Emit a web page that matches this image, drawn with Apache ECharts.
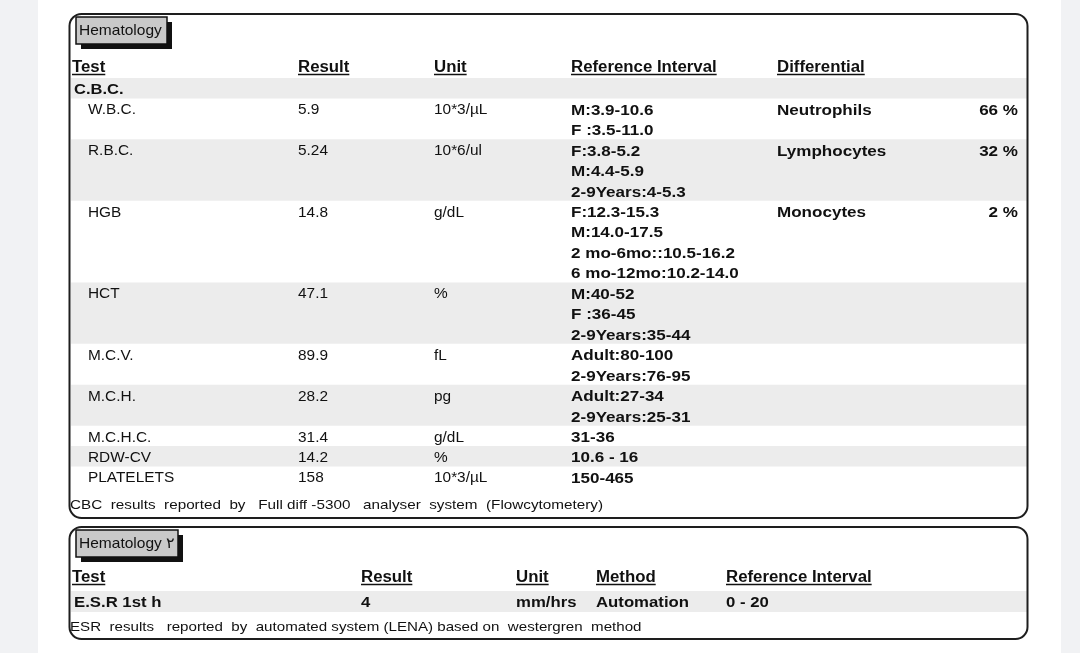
<!DOCTYPE html>
<html>
<head>
<meta charset="utf-8">
<script src="https://cdn.jsdelivr.net/npm/echarts@6/dist/echarts.min.js"></script>
<style>
html,body{margin:0;padding:0;background:#f1f2f4;}
#chart{width:1080px;height:653px;}
</style>
</head>
<body>
<div id="chart"></div>
<script>
// ---------- DATA ----------
const sectionTitle1 = 'Hematology';
const sectionTitle2 = 'Hematology ٢';
const headers1 = ['Test', 'Result', 'Unit', 'Reference Interval', 'Differential'];
const groupName = 'C.B.C.';
const tests = ['W.B.C.', 'R.B.C.', 'HGB', 'HCT', 'M.C.V.', 'M.C.H.', 'M.C.H.C.', 'RDW-CV', 'PLATELETS'];
const results = ['5.9', '5.24', '14.8', '47.1', '89.9', '28.2', '31.4', '14.2', '158'];
const units = ['10*3/µL', '10*6/ul', 'g/dL', '%', 'fL', 'pg', 'g/dL', '%', '10*3/µL'];
const refIntervals = [
  ['M:3.9-10.6', 'F :3.5-11.0'],
  ['F:3.8-5.2', 'M:4.4-5.9', '2-9Years:4-5.3'],
  ['F:12.3-15.3', 'M:14.0-17.5', '2 mo-6mo::10.5-16.2', '6 mo-12mo:10.2-14.0'],
  ['M:40-52', 'F :36-45', '2-9Years:35-44'],
  ['Adult:80-100', '2-9Years:76-95'],
  ['Adult:27-34', '2-9Years:25-31'],
  ['31-36'],
  ['10.6 - 16'],
  ['150-465']
];
const diffNames = ['Neutrophils', 'Lymphocytes', 'Monocytes'];
const diffValues = [66, 32, 2];
const footer1 = 'CBC  results  reported  by   Full diff -5300   analyser  system  (Flowcytometery)';

const headers2 = ['Test', 'Result', 'Unit', 'Method', 'Reference Interval'];
const esrRow = ['E.S.R 1st h', '4', 'mm/hrs', 'Automation', '0 - 20'];
const footer2 = 'ESR  results   reported  by  automated system (LENA) based on  westergren  method';

// ---------- LAYOUT ----------
const FAM = '"Liberation Sans", Arial, sans-serif';
const INK = '#111111';
const BAND = '#ececec';
const cols1 = [72, 298, 434, 571, 777];
const cols2 = [72, 361, 516, 596, 726];
const lineH = 20.45;
const DY = 1.8; // text baseline nudge

const mc = document.createElement('canvas').getContext('2d');
function measure(str, size, bold, sx) {
  mc.font = (bold ? 'bold ' : '') + size + 'px ' + FAM;
  return mc.measureText(str).width * (sx || 1);
}
function txt(x, y, str, size, bold, sx, align) {
  return {
    type: 'text', x: x, y: y + DY, scaleX: sx || 1, z: 10,
    style: {
      text: str, fontSize: size, fontWeight: bold ? 'bold' : 'normal', fontFamily: FAM,
      fill: INK, align: align || 'left', verticalAlign: 'middle'
    }
  };
}
function rect(x, y, w, h, fill, stroke, lw, r, z) {
  return {
    type: 'rect', z: z || 1,
    shape: { x: x, y: y, width: w, height: h, r: r || 0 },
    style: { fill: fill || 'none', stroke: stroke || 'none', lineWidth: lw || 0 }
  };
}
function underlined(x, y, str, size, sx) {
  const w = measure(str, size, true, sx);
  return [
    txt(x, y, str, size, true, sx),
    { type: 'line', z: 10, shape: { x1: x, y1: y + 8.5, x2: x + w, y2: y + 8.5 }, style: { stroke: INK, lineWidth: 1.6 } }
  ];
}
function labelBox(x, y, w, h, str) {
  return [
    rect(x + 5, y + 5, w, h, '#111', null, 0, 0, 4),
    rect(x, y, w, h, '#c9c9c9', '#111', 1.5, 0, 5),
    txt(x + 3, y + h / 2 - 1, str, 14.5, false, 1.07)
  ];
}

const els = [];
// page
els.push(rect(38, 0, 1023, 653, '#ffffff', null, 0, 0, 0));

// ----- box 1 -----
els.push(rect(69.5, 14, 958, 504, 'none', '#1e1e1e', 2, 12, 8));
els.push(...labelBox(76, 17, 91, 27, sectionTitle1));
headers1.forEach((h, i) => els.push(...underlined(cols1[i], 66, h, 16, 1.05)));

let y0 = 78;
// group row
els.push(rect(71, y0, 956, lineH, BAND));
els.push(txt(74, y0 + lineH / 2, groupName, 15, true, 1.1));
y0 += lineH;
tests.forEach((t, i) => {
  const n = Math.max(refIntervals[i].length, 1);
  const h = n * lineH;
  if (i % 2 === 1) els.push(rect(71, y0, 956, h, BAND));
  const yc = y0 + lineH / 2;
  els.push(txt(88, yc, t, 14, false, 1.1));
  els.push(txt(cols1[1], yc, results[i], 14, false, 1.1));
  els.push(txt(cols1[2], yc, units[i], 14, false, 1.1));
  refIntervals[i].forEach((r, k) => els.push(txt(cols1[3], yc + k * lineH, r, 15.5, true, 1.1)));
  if (i < diffNames.length) {
    els.push(txt(cols1[4], yc, diffNames[i], 15.5, true, 1.1));
    els.push(txt(1018, yc, diffValues[i] + ' %', 15.5, true, 1.1, 'right'));
  }
  y0 += h;
});
els.push(txt(70, 503, footer1, 13.5, false, 1.13));

// ----- box 2 -----
els.push(rect(69.5, 527, 958, 112, 'none', '#1e1e1e', 2, 12, 8));
els.push(...labelBox(76, 530, 102, 27, sectionTitle2));
headers2.forEach((h, i) => els.push(...underlined(cols2[i], 576, h, 16, 1.05)));
els.push(rect(71, 591, 956, 21, BAND));
esrRow.forEach((v, i) => els.push(txt(i === 0 ? 74 : cols2[i], 600.5, v, 15.5, true, 1.08)));
els.push(txt(70, 625, footer2, 13.5, false, 1.12));

const chart = echarts.init(document.getElementById('chart'), null, { renderer: 'canvas' });
chart.setOption({
  backgroundColor: '#f1f2f4',
  animation: false,
  graphic: { elements: els }
});
</script>
</body>
</html>
